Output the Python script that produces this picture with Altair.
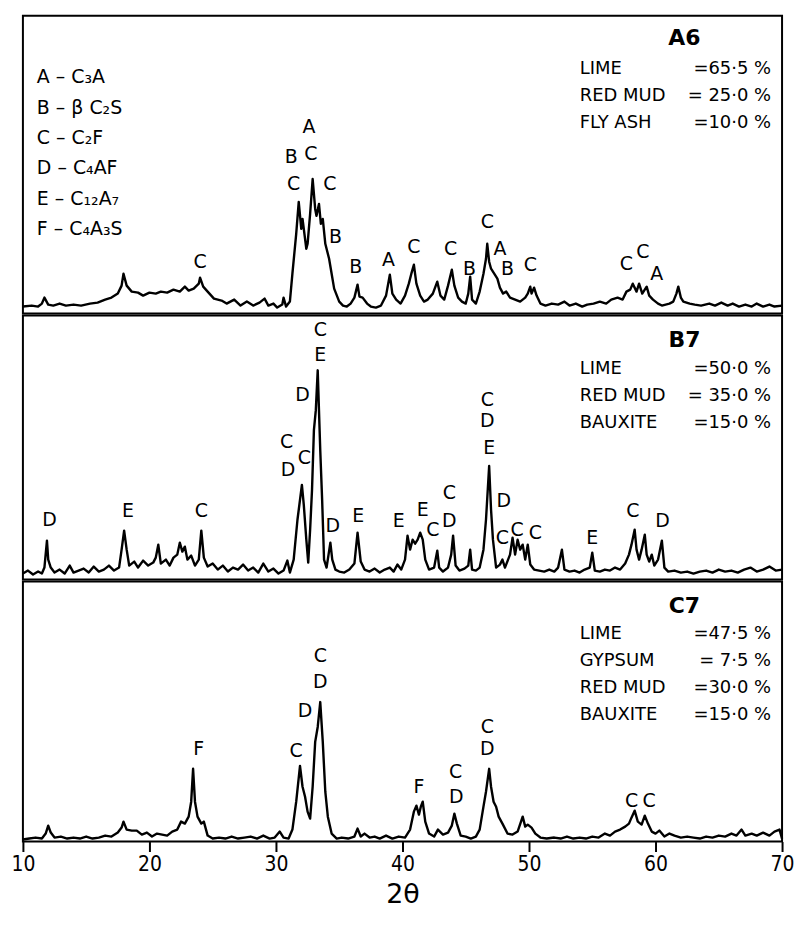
import altair as alt
import pandas as pd

# ---------------- data ----------------
# A6 trace (2-theta, intensity in arbitrary units)
A6_theta = [10.0, 10.7, 11.2, 11.5, 11.7, 12.0, 12.4, 12.9, 13.4, 14.0, 14.6, 15.3, 15.9, 16.5, 17.0, 17.5, 17.8, 17.95, 18.2, 18.6,
            19.1, 19.5, 20.0, 20.5, 20.9, 21.4, 21.9, 22.4, 22.8, 23.1, 23.5, 23.9, 24.0, 24.25, 24.6, 25.1, 25.7, 26.1, 26.7, 27.2,
            27.7, 28.2, 28.7, 29.1, 29.4, 29.8, 30.1, 30.5, 30.6, 30.8, 31.1, 31.3, 31.6, 31.8, 32.0, 32.1, 32.4, 32.5, 32.7, 32.9,
            33.1, 33.2, 33.4, 33.55, 33.7, 33.9, 34.2, 34.4, 34.6, 35.0, 35.3, 35.6, 35.9, 36.2, 36.45, 36.6, 36.85, 37.2, 37.5, 37.9,
            38.3, 38.7, 39.0, 39.2, 39.5, 39.85, 40.2, 40.5, 40.7, 40.9, 41.1, 41.4, 41.7, 42.0, 42.4, 42.75, 43.0, 43.3, 43.6, 43.9,
            44.1, 44.4, 44.7, 45.0, 45.2, 45.35, 45.5, 45.8, 46.1, 46.4, 46.6, 46.7, 46.85, 47.0, 47.25, 47.5, 47.7, 47.95, 48.2, 48.5,
            48.9, 49.3, 49.7, 49.9, 50.1, 50.2, 50.4, 50.6, 50.9, 51.3, 51.8, 52.3, 52.8, 53.2, 53.7, 54.2, 54.6, 55.1, 55.6, 56.1,
            56.5, 57.0, 57.4, 57.7, 58.0, 58.2, 58.5, 58.7, 58.95, 59.3, 59.5, 59.8, 60.2, 60.5, 60.8, 61.1, 61.4, 61.65, 61.8, 62.0,
            62.2, 62.7, 63.1, 63.6, 64.25, 64.7, 65.2, 65.7, 66.1, 66.6, 67.1, 67.6, 68.0, 68.5, 69.0, 69.4, 70.0]
A6_int = [7, 8, 7, 10, 16, 9, 8, 10, 8, 9, 8, 10, 11, 14, 16, 20, 28, 40, 28, 22,
          21, 18, 21, 20, 22, 21, 24, 22, 27, 23, 25, 30, 36, 27, 22, 15, 13, 10, 14, 8,
          12, 8, 11, 15, 8, 10, 6, 9, 16, 7, 12, 40, 80, 112, 85, 95, 65, 70, 100, 135,
          105, 98, 110, 90, 95, 70, 55, 40, 25, 12, 8, 7, 10, 16, 29, 17, 16, 10, 7, 6,
          8, 18, 39, 20, 14, 10, 18, 30, 40, 49, 30, 18, 12, 14, 20, 32, 18, 14, 28, 44,
          28, 16, 12, 10, 20, 37, 14, 10, 22, 40, 55, 70, 52, 45, 40, 35, 26, 20, 22, 16,
          14, 12, 16, 20, 27, 20, 26, 18, 10, 8, 10, 9, 12, 8, 10, 7, 9, 10, 12, 10,
          14, 16, 14, 22, 24, 30, 22, 30, 20, 27, 18, 14, 10, 8, 9, 10, 12, 20, 27, 16,
          12, 10, 9, 8, 10, 8, 11, 8, 10, 7, 9, 7, 10, 7, 9, 7, 8]

B7_theta = [10.0, 10.4, 10.8, 11.2, 11.5, 11.7, 11.9, 12.0, 12.2, 12.5, 12.9, 13.3, 13.7, 14.0, 14.4, 14.8, 15.2, 15.6, 16.0, 16.4,
            16.8, 17.2, 17.6, 17.8, 18.0, 18.2, 18.4, 18.8, 19.1, 19.5, 19.9, 20.3, 20.5, 20.7, 20.9, 21.3, 21.6, 21.9, 22.2, 22.4,
            22.6, 22.8, 23.0, 23.3, 23.6, 23.9, 24.1, 24.3, 24.6, 25.0, 25.4, 25.8, 26.2, 26.6, 27.0, 27.4, 27.8, 28.2, 28.6, 29.0,
            29.4, 29.8, 30.2, 30.6, 30.9, 31.1, 31.4, 31.7, 32.05, 32.2, 32.4, 32.55, 32.7, 32.85, 33.0, 33.15, 33.3, 33.4, 33.5, 33.65,
            33.8, 34.0, 34.3, 34.45, 34.7, 35.0, 35.4, 35.8, 36.2, 36.45, 36.7, 37.0, 37.4, 37.8, 38.2, 38.6, 39.0, 39.3, 39.6, 39.9,
            40.2, 40.4, 40.6, 40.8, 41.0, 41.2, 41.4, 41.6, 41.8, 42.1, 42.5, 42.75, 42.9, 43.2, 43.6, 43.85, 44.0, 44.2, 44.5, 44.9,
            45.2, 45.35, 45.5, 45.8, 46.1, 46.4, 46.6, 46.85, 47.0, 47.15, 47.4, 47.7, 47.9, 48.1, 48.5, 48.7, 48.9, 49.1, 49.3, 49.5,
            49.7, 49.9, 50.1, 50.4, 50.8, 51.2, 51.6, 52.0, 52.3, 52.6, 52.8, 53.2, 53.6, 54.0, 54.4, 54.8, 55.0, 55.2, 55.6, 56.0,
            56.4, 56.8, 57.2, 57.6, 57.9, 58.1, 58.35, 58.5, 58.7, 58.9, 59.15, 59.3, 59.5, 59.7, 59.9, 60.2, 60.5, 60.7, 61.0, 61.5,
            62.0, 62.5, 63.0, 63.5, 64.0, 64.5, 65.0, 65.5, 66.0, 66.5, 67.0, 67.5, 68.0, 68.5, 69.0, 69.5, 70.0]
B7_int = [6, 9, 5, 8, 6, 12, 39, 20, 12, 7, 10, 6, 14, 7, 9, 11, 7, 13, 8, 10,
          14, 9, 12, 30, 49, 30, 14, 18, 12, 19, 14, 17, 22, 35, 16, 20, 14, 22, 25, 37,
          28, 33, 20, 24, 14, 20, 49, 22, 13, 16, 10, 14, 8, 12, 10, 15, 9, 12, 7, 16,
          8, 11, 6, 9, 19, 7, 20, 60, 95, 75, 40, 17, 50, 90, 150, 170, 210, 170, 130, 80,
          20, 12, 37, 20, 10, 8, 7, 10, 16, 47, 18, 10, 8, 11, 7, 10, 12, 8, 15, 10,
          20, 44, 30, 40, 36, 40, 47, 40, 20, 10, 12, 29, 12, 8, 12, 25, 44, 14, 9, 11,
          14, 30, 10, 9, 12, 30, 60, 114, 70, 40, 12, 15, 20, 12, 25, 42, 25, 40, 30, 35,
          20, 35, 15, 10, 9, 8, 10, 8, 12, 30, 10, 8, 9, 7, 10, 12, 27, 9, 8, 10,
          9, 12, 10, 16, 25, 35, 50, 30, 20, 30, 45, 25, 18, 25, 14, 20, 39, 12, 8, 9,
          7, 8, 6, 8, 9, 7, 10, 8, 9, 7, 10, 12, 8, 10, 13, 9, 10]

C7_theta = [10.0, 10.5, 11.0, 11.5, 11.8, 12.0, 12.2, 12.5, 13.0, 13.5, 14.0, 14.5, 15.0, 15.5, 16.0, 16.5, 17.0, 17.5, 17.8, 17.95,
            18.2, 18.6, 19.0, 19.4, 19.8, 20.2, 20.6, 21.0, 21.4, 21.8, 22.2, 22.5, 22.8, 23.1, 23.3, 23.45, 23.6, 23.8, 24.1, 24.3,
            24.6, 25.0, 25.5, 26.0, 26.5, 27.0, 27.5, 28.0, 28.5, 29.0, 29.5, 29.9, 30.3, 30.6, 31.0, 31.3, 31.6, 31.9, 32.1, 32.3,
            32.5, 32.7, 32.9, 33.1, 33.3, 33.5, 33.7, 33.9, 34.1, 34.4, 34.8, 35.2, 35.7, 36.2, 36.45, 36.7, 37.0, 37.4, 37.8, 38.2,
            38.7, 39.2, 39.7, 40.2, 40.6, 40.9, 41.1, 41.3, 41.45, 41.6, 41.8, 42.1, 42.5, 42.8, 43.2, 43.6, 43.9, 44.1, 44.3, 44.6,
            45.0, 45.4, 45.8, 46.1, 46.4, 46.6, 46.85, 47.0, 47.2, 47.4, 47.6, 47.9, 48.3, 48.7, 49.1, 49.5, 49.7, 49.9, 50.2, 50.5,
            50.9, 51.4, 52.0, 52.5, 53.0, 53.5, 54.0, 54.5, 55.0, 55.5, 56.0, 56.4, 56.8, 57.2, 57.6, 57.9, 58.1, 58.35, 58.6, 58.9,
            59.15, 59.4, 59.7, 60.0, 60.3, 60.7, 61.1, 61.5, 62.0, 62.5, 63.0, 63.5, 64.0, 64.5, 65.0, 65.5, 66.0, 66.4, 66.8, 67.1,
            67.6, 68.0, 68.5, 69.0, 69.4, 69.8, 70.0]
C7_int = [2, 3, 4, 3, 8, 16, 9, 4, 5, 3, 4, 3, 5, 3, 4, 6, 5, 9, 14, 20,
          12, 11, 11, 7, 9, 5, 8, 7, 6, 10, 12, 20, 18, 25, 40, 73, 40, 25, 18, 20,
          6, 3, 4, 3, 5, 3, 4, 5, 3, 6, 3, 4, 10, 4, 3, 12, 40, 76, 55, 45,
          30, 23, 55, 100, 115, 140, 100, 50, 25, 8, 3, 4, 3, 5, 13, 5, 8, 4, 5, 3,
          6, 3, 5, 4, 12, 30, 36, 27, 35, 40, 20, 8, 5, 12, 7, 9, 16, 28, 18, 6,
          5, 3, 5, 12, 35, 50, 73, 55, 40, 35, 25, 18, 8, 7, 10, 25, 15, 17, 14, 8,
          4, 3, 4, 3, 5, 3, 4, 3, 5, 4, 8, 6, 10, 12, 15, 18, 24, 31, 20, 17,
          26, 18, 10, 8, 11, 5, 8, 6, 4, 5, 4, 3, 5, 4, 6, 5, 8, 6, 12, 6,
          8, 6, 9, 6, 10, 12, 3]

# peak labels: letter, 2-theta, height
A6_lab = ["C", "B", "C", "A", "C", "C", "B", "B", "A", "C", "C", "B", "C", "A", "B", "C", "C", "C", "A"]
A6_lab_x = [24.0, 31.2, 31.4, 32.6, 32.75, 34.25, 34.7, 36.3, 38.9, 40.9, 43.8, 45.3, 46.7, 47.7, 48.3, 50.1, 57.7, 59.0, 60.1]
A6_lab_y = [52, 157, 130, 187, 160, 130, 77, 47, 54, 67, 65, 45, 92, 65, 45, 49, 50, 62, 40]

B7_lab = ["D", "E", "C", "C", "D", "C", "D", "C", "E", "D", "E", "E", "E", "C", "C", "D",
          "C", "D", "E", "D", "C", "C", "C", "E", "C", "D"]
B7_lab_x = [12.1, 18.3, 24.1, 30.85, 30.95, 32.25, 32.1, 33.5, 33.5, 34.5, 36.5, 39.7, 41.6, 42.4, 43.7, 43.7,
            46.7, 46.7, 46.85, 48.0, 47.9, 49.05, 50.5, 55.0, 58.2, 60.55]
B7_lab_y = [60, 69, 69, 138, 110, 122, 185, 250, 225, 54, 64, 59, 70, 50, 87, 59,
            180, 159, 132, 79, 42, 50, 47, 42, 69, 59]

C7_lab = ["F", "C", "D", "D", "C", "F", "C", "D", "C", "D", "C", "C"]
C7_lab_x = [23.9, 31.6, 32.3, 33.5, 33.5, 41.3, 44.2, 44.25, 46.7, 46.7, 58.1, 59.5]
C7_lab_y = [93, 91, 131, 160, 186, 55, 70, 45, 115, 93, 41, 41]

legend_lines = ["A – C₃A", "B – β C₂S", "C – C₂F", "D – C₄AF", "E – C₁₂A₇", "F – C₄A₃S"]

A6_names = ["LIME", "RED MUD", "FLY ASH"]
A6_vals = ["=65·5 %", "= 25·0 %", "=10·0 %"]
B7_names = ["LIME", "RED MUD", "BAUXITE"]
B7_vals = ["=50·0 %", "= 35·0 %", "=15·0 %"]
C7_names = ["LIME", "GYPSUM", "RED MUD", "BAUXITE"]
C7_vals = ["=47·5 %", "=  7·5 %", "=30·0 %", "=15·0 %"]

ticks = [10, 20, 30, 40, 50, 60, 70]

FONT = "DejaVu Sans"
W = 762


def txt(s, x, y, size=18, align="left", weight="normal"):
    return alt.Chart(pd.DataFrame({"t": [s]})).mark_text(
        align=align, baseline="middle", fontSize=size, font=FONT, fontWeight=weight, color="black"
    ).encode(text="t:N", x=alt.value(x), y=alt.value(y))


def panel(theta, inten, H, labs, lx, ly, title, names, vals, title_y, line_y, line_gap, bottom=False):
    xscale = alt.Scale(domain=[10, 70], nice=False, zero=False)
    yscale = alt.Scale(domain=[0, H], nice=False, zero=True)
    if bottom:
        xaxis = alt.Axis(values=ticks, title="2θ", grid=False, domain=False, ticks=True, tickColor="black",
                         tickWidth=2, tickSize=10, labelFontSize=21,
                         labelFont="DejaVu Sans Condensed, DejaVu Sans",
                         labelColor="black", labelPadding=2, labelFlush=False, titleFontSize=27,
                         titleFont=FONT, titleFontWeight="normal", titleColor="black", titlePadding=7)
    else:
        xaxis = None
    df = pd.DataFrame({"theta": theta, "I": inten})
    line = alt.Chart(df).mark_line(color="black", strokeWidth=2.4, strokeJoin="round").encode(
        x=alt.X("theta:Q", scale=xscale, axis=xaxis),
        y=alt.Y("I:Q", scale=yscale, axis=None),
    )
    ldf = pd.DataFrame({"lab": labs, "x": lx, "y": ly})
    letters = alt.Chart(ldf).mark_text(fontSize=19, font=FONT, color="black", baseline="middle").encode(
        x=alt.X("x:Q", scale=xscale), y=alt.Y("y:Q", scale=yscale), text="lab:N"
    )
    layers = [line, letters, txt(title, 664, title_y, size=22, align="center", weight="bold")]
    for i, (n, v) in enumerate(zip(names, vals)):
        layers.append(txt(n, 559, line_y + i * line_gap, size=18))
        layers.append(txt(v, 751, line_y + i * line_gap, size=18, align="right"))
    return alt.layer(*layers).properties(width=W, height=H)


pA = panel(A6_theta, A6_int, 299, A6_lab, A6_lab_x, A6_lab_y, "A6", A6_names, A6_vals, 22, 54, 27)
for i, s in enumerate(legend_lines):
    pA = pA + txt(s, 14, 62 + i * 30.4, size=19)
pB = panel(B7_theta, B7_int, 265, B7_lab, B7_lab_x, B7_lab_y, "B7", B7_names, B7_vals, 25, 54, 27)
pC = panel(C7_theta, C7_int, 261, C7_lab, C7_lab_x, C7_lab_y, "C7", C7_names, C7_vals, 25, 53, 27, bottom=True)

chart = alt.vconcat(pA, pB, pC, spacing=0).properties(
    padding={"left": 9, "top": 13, "right": 0, "bottom": 0},
    background="white",
).configure_view(stroke="black", strokeWidth=2)

chart.save("out.html", embed_options={"renderer": "svg", "actions": False})
